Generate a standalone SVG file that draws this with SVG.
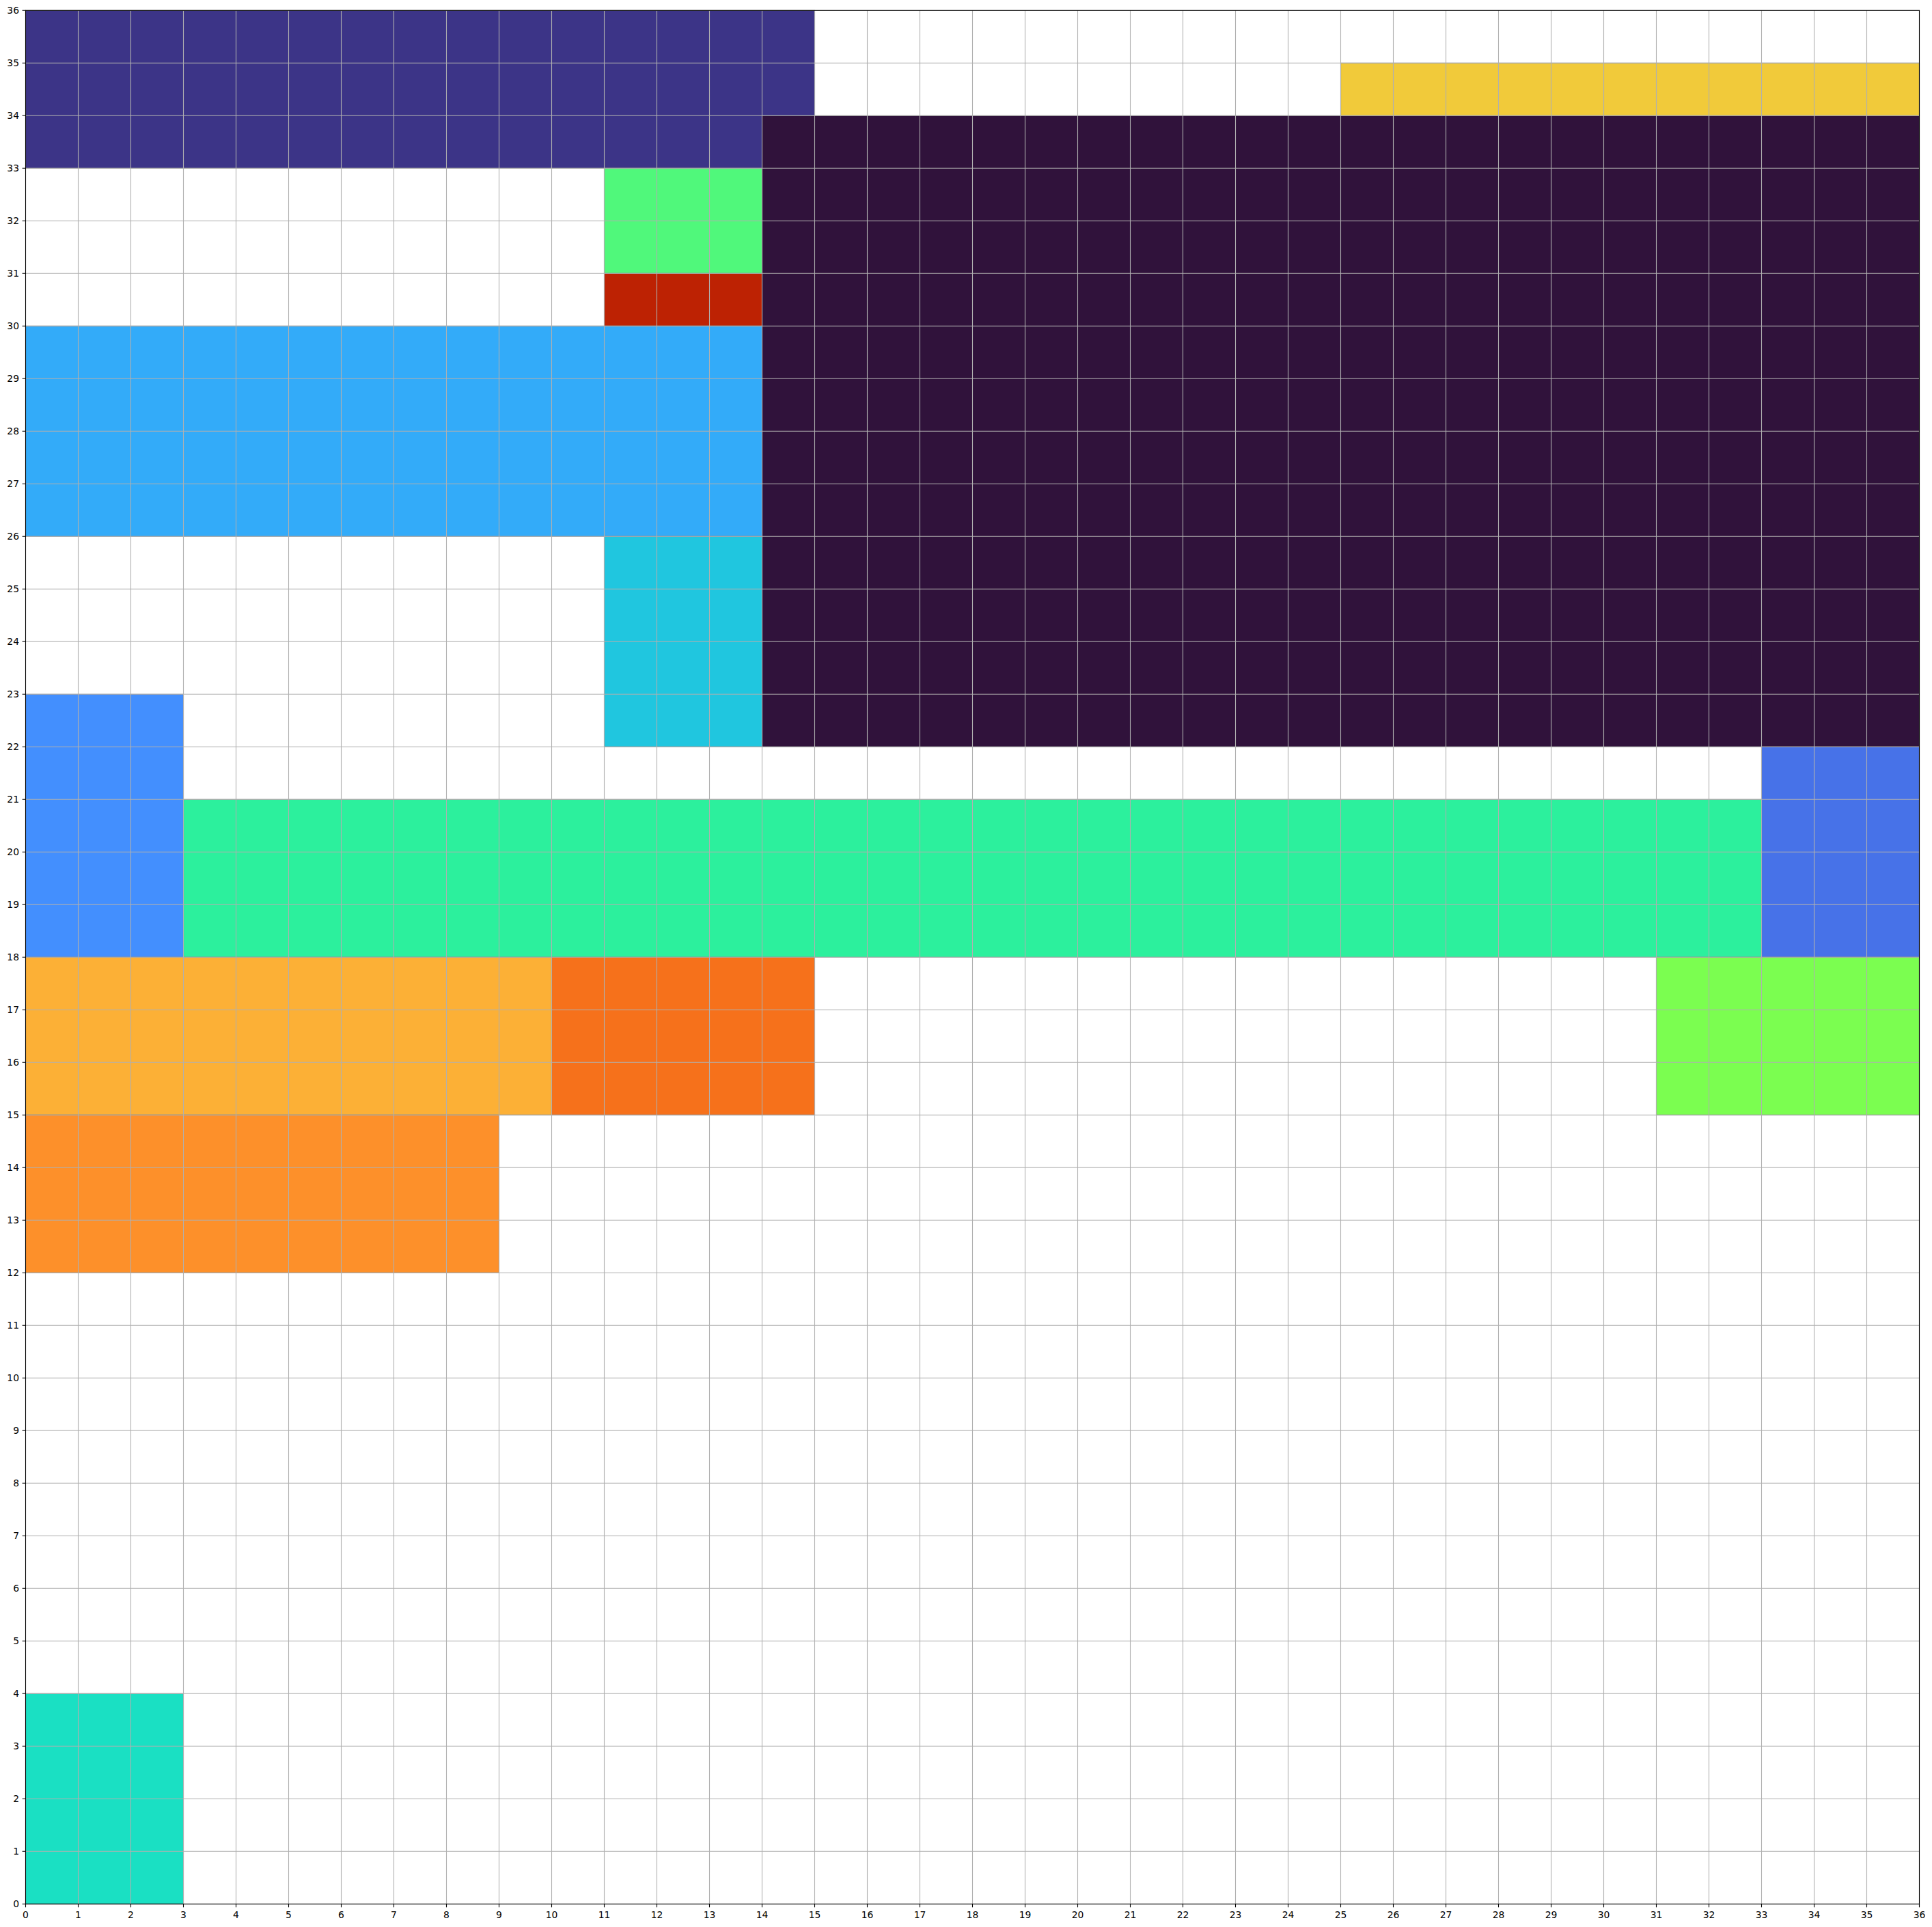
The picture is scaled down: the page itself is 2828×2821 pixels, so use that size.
<svg xmlns="http://www.w3.org/2000/svg" width="2828" height="2821" viewBox="0 0 2828 2821">
<style>
.r{stroke:#7f7f7f;stroke-opacity:0.7;stroke-width:1.1}
.grid{stroke:#b0b0b0;stroke-width:1.1;fill:none}
.tick{stroke:#000;stroke-width:1.1;fill:none}
.spine{stroke:#000;stroke-width:1.1;fill:none}
text{font-family:"DejaVu Sans",sans-serif;font-size:13.9px;fill:#000}
.xl{text-anchor:middle}
.yl{text-anchor:end}
</style>
<rect width="2828" height="2821" fill="#ffffff"/>
<g id="nodes">
<g id="n-navy"><rect class="r" x="37.5" y="15.3" width="1155" height="231" fill="#3c3487"/></g>
<g id="n-purple"><rect class="r" x="1115.5" y="169.3" width="1694" height="924" fill="#30123b"/></g>
<g id="n-yellow"><rect class="r" x="1962.5" y="92.3" width="847" height="77" fill="#f1ca3a"/></g>
<g id="n-green"><rect class="r" x="884.5" y="246.3" width="231" height="154" fill="#50f87b"/></g>
<g id="n-red"><rect class="r" x="884.5" y="400.3" width="231" height="77" fill="#bd2203"/></g>
<g id="n-lightblue"><rect class="r" x="37.5" y="477.3" width="1078" height="308" fill="#33abf9"/></g>
<g id="n-cyan"><rect class="r" x="884.5" y="785.3" width="231" height="308" fill="#20c6df"/></g>
<g id="n-blue"><rect class="r" x="37.5" y="1016.3" width="231" height="385" fill="#438ffe"/></g>
<g id="n-teal"><rect class="r" x="268.5" y="1170.3" width="2310" height="231" fill="#2cf09d"/></g>
<g id="n-royal"><rect class="r" x="2578.5" y="1093.3" width="231" height="308" fill="#4772e8"/></g>
<g id="n-orangey"><rect class="r" x="37.5" y="1401.3" width="770" height="231" fill="#fcb036"/></g>
<g id="n-darkorange"><rect class="r" x="807.5" y="1401.3" width="385" height="231" fill="#f6711b"/></g>
<g id="n-lightgreen"><rect class="r" x="2424.5" y="1401.3" width="385" height="231" fill="#7bfe50"/></g>
<g id="n-orange"><rect class="r" x="37.5" y="1632.3" width="693" height="231" fill="#fd902a"/></g>
<g id="n-turquoise"><rect class="r" x="37.5" y="2479.3" width="231" height="308" fill="#1ae0c3"/></g>
</g>
<g id="connectors"></g>
<g id="gridlines">
<path class="grid" d="M114.5 15.3V2787.3M191.5 15.3V2787.3M268.5 15.3V2787.3M345.5 15.3V2787.3M422.5 15.3V2787.3M499.5 15.3V2787.3M576.5 15.3V2787.3M653.5 15.3V2787.3M730.5 15.3V2787.3M807.5 15.3V2787.3M884.5 15.3V2787.3M961.5 15.3V2787.3M1038.5 15.3V2787.3M1115.5 15.3V2787.3M1192.5 15.3V2787.3M1269.5 15.3V2787.3M1346.5 15.3V2787.3M1423.5 15.3V2787.3M1500.5 15.3V2787.3M1577.5 15.3V2787.3M1654.5 15.3V2787.3M1731.5 15.3V2787.3M1808.5 15.3V2787.3M1885.5 15.3V2787.3M1962.5 15.3V2787.3M2039.5 15.3V2787.3M2116.5 15.3V2787.3M2193.5 15.3V2787.3M2270.5 15.3V2787.3M2347.5 15.3V2787.3M2424.5 15.3V2787.3M2501.5 15.3V2787.3M2578.5 15.3V2787.3M2655.5 15.3V2787.3M2732.5 15.3V2787.3"/>
<path class="grid" d="M37.5 2710.3H2809.5M37.5 2633.3H2809.5M37.5 2556.3H2809.5M37.5 2479.3H2809.5M37.5 2402.3H2809.5M37.5 2325.3H2809.5M37.5 2248.3H2809.5M37.5 2171.3H2809.5M37.5 2094.3H2809.5M37.5 2017.3H2809.5M37.5 1940.3H2809.5M37.5 1863.3H2809.5M37.5 1786.3H2809.5M37.5 1709.3H2809.5M37.5 1632.3H2809.5M37.5 1555.3H2809.5M37.5 1478.3H2809.5M37.5 1401.3H2809.5M37.5 1324.3H2809.5M37.5 1247.3H2809.5M37.5 1170.3H2809.5M37.5 1093.3H2809.5M37.5 1016.3H2809.5M37.5 939.3H2809.5M37.5 862.3H2809.5M37.5 785.3H2809.5M37.5 708.3H2809.5M37.5 631.3H2809.5M37.5 554.3H2809.5M37.5 477.3H2809.5M37.5 400.3H2809.5M37.5 323.3H2809.5M37.5 246.3H2809.5M37.5 169.3H2809.5M37.5 92.3H2809.5"/>
</g>
<g id="axes">
<rect class="spine" x="37.5" y="15.3" width="2772" height="2772"/>
<path class="tick" d="M37.5 2787.3v4.9M114.5 2787.3v4.9M191.5 2787.3v4.9M268.5 2787.3v4.9M345.5 2787.3v4.9M422.5 2787.3v4.9M499.5 2787.3v4.9M576.5 2787.3v4.9M653.5 2787.3v4.9M730.5 2787.3v4.9M807.5 2787.3v4.9M884.5 2787.3v4.9M961.5 2787.3v4.9M1038.5 2787.3v4.9M1115.5 2787.3v4.9M1192.5 2787.3v4.9M1269.5 2787.3v4.9M1346.5 2787.3v4.9M1423.5 2787.3v4.9M1500.5 2787.3v4.9M1577.5 2787.3v4.9M1654.5 2787.3v4.9M1731.5 2787.3v4.9M1808.5 2787.3v4.9M1885.5 2787.3v4.9M1962.5 2787.3v4.9M2039.5 2787.3v4.9M2116.5 2787.3v4.9M2193.5 2787.3v4.9M2270.5 2787.3v4.9M2347.5 2787.3v4.9M2424.5 2787.3v4.9M2501.5 2787.3v4.9M2578.5 2787.3v4.9M2655.5 2787.3v4.9M2732.5 2787.3v4.9M2809.5 2787.3v4.9"/>
<path class="tick" d="M37.5 2787.3h-4.9M37.5 2710.3h-4.9M37.5 2633.3h-4.9M37.5 2556.3h-4.9M37.5 2479.3h-4.9M37.5 2402.3h-4.9M37.5 2325.3h-4.9M37.5 2248.3h-4.9M37.5 2171.3h-4.9M37.5 2094.3h-4.9M37.5 2017.3h-4.9M37.5 1940.3h-4.9M37.5 1863.3h-4.9M37.5 1786.3h-4.9M37.5 1709.3h-4.9M37.5 1632.3h-4.9M37.5 1555.3h-4.9M37.5 1478.3h-4.9M37.5 1401.3h-4.9M37.5 1324.3h-4.9M37.5 1247.3h-4.9M37.5 1170.3h-4.9M37.5 1093.3h-4.9M37.5 1016.3h-4.9M37.5 939.3h-4.9M37.5 862.3h-4.9M37.5 785.3h-4.9M37.5 708.3h-4.9M37.5 631.3h-4.9M37.5 554.3h-4.9M37.5 477.3h-4.9M37.5 400.3h-4.9M37.5 323.3h-4.9M37.5 246.3h-4.9M37.5 169.3h-4.9M37.5 92.3h-4.9M37.5 15.3h-4.9"/>
</g>
<g id="xlabels" class="xl">
<text class="xl" x="37.5" y="2808">0</text><text class="xl" x="114.5" y="2808">1</text><text class="xl" x="191.5" y="2808">2</text><text class="xl" x="268.5" y="2808">3</text><text class="xl" x="345.5" y="2808">4</text><text class="xl" x="422.5" y="2808">5</text><text class="xl" x="499.5" y="2808">6</text><text class="xl" x="576.5" y="2808">7</text><text class="xl" x="653.5" y="2808">8</text><text class="xl" x="730.5" y="2808">9</text><text class="xl" x="807.5" y="2808">10</text><text class="xl" x="884.5" y="2808">11</text><text class="xl" x="961.5" y="2808">12</text><text class="xl" x="1038.5" y="2808">13</text><text class="xl" x="1115.5" y="2808">14</text><text class="xl" x="1192.5" y="2808">15</text><text class="xl" x="1269.5" y="2808">16</text><text class="xl" x="1346.5" y="2808">17</text><text class="xl" x="1423.5" y="2808">18</text><text class="xl" x="1500.5" y="2808">19</text><text class="xl" x="1577.5" y="2808">20</text><text class="xl" x="1654.5" y="2808">21</text><text class="xl" x="1731.5" y="2808">22</text><text class="xl" x="1808.5" y="2808">23</text><text class="xl" x="1885.5" y="2808">24</text><text class="xl" x="1962.5" y="2808">25</text><text class="xl" x="2039.5" y="2808">26</text><text class="xl" x="2116.5" y="2808">27</text><text class="xl" x="2193.5" y="2808">28</text><text class="xl" x="2270.5" y="2808">29</text><text class="xl" x="2347.5" y="2808">30</text><text class="xl" x="2424.5" y="2808">31</text><text class="xl" x="2501.5" y="2808">32</text><text class="xl" x="2578.5" y="2808">33</text><text class="xl" x="2655.5" y="2808">34</text><text class="xl" x="2732.5" y="2808">35</text><text class="xl" x="2809.5" y="2808">36</text>
</g>
<g id="ylabels">
<text class="yl" x="28" y="2792.3">0</text><text class="yl" x="28" y="2715.3">1</text><text class="yl" x="28" y="2638.3">2</text><text class="yl" x="28" y="2561.3">3</text><text class="yl" x="28" y="2484.3">4</text><text class="yl" x="28" y="2407.3">5</text><text class="yl" x="28" y="2330.3">6</text><text class="yl" x="28" y="2253.3">7</text><text class="yl" x="28" y="2176.3">8</text><text class="yl" x="28" y="2099.3">9</text><text class="yl" x="28" y="2022.3">10</text><text class="yl" x="28" y="1945.3">11</text><text class="yl" x="28" y="1868.3">12</text><text class="yl" x="28" y="1791.3">13</text><text class="yl" x="28" y="1714.3">14</text><text class="yl" x="28" y="1637.3">15</text><text class="yl" x="28" y="1560.3">16</text><text class="yl" x="28" y="1483.3">17</text><text class="yl" x="28" y="1406.3">18</text><text class="yl" x="28" y="1329.3">19</text><text class="yl" x="28" y="1252.3">20</text><text class="yl" x="28" y="1175.3">21</text><text class="yl" x="28" y="1098.3">22</text><text class="yl" x="28" y="1021.3">23</text><text class="yl" x="28" y="944.3">24</text><text class="yl" x="28" y="867.3">25</text><text class="yl" x="28" y="790.3">26</text><text class="yl" x="28" y="713.3">27</text><text class="yl" x="28" y="636.3">28</text><text class="yl" x="28" y="559.3">29</text><text class="yl" x="28" y="482.3">30</text><text class="yl" x="28" y="405.3">31</text><text class="yl" x="28" y="328.3">32</text><text class="yl" x="28" y="251.3">33</text><text class="yl" x="28" y="174.3">34</text><text class="yl" x="28" y="97.3">35</text><text class="yl" x="28" y="20.3">36</text>
</g>
</svg>
